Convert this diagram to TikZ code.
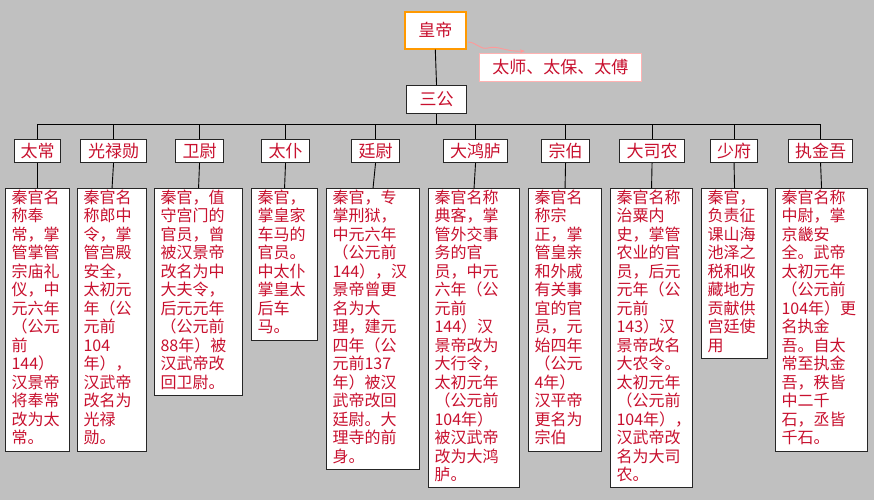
\documentclass[tikz,border=0pt]{standalone}
\usepackage{fontspec}
\setmainfont{Noto Sans CJK SC}
\usetikzlibrary{arrows.meta}
\definecolor{txt}{HTML}{C8102E}
\definecolor{bg}{HTML}{C0C0C0}
\tikzset{
 box/.style={draw=black!85,line width=1.1pt,fill=white,text=txt,font=\fontsize{16}{18.5}\selectfont,inner sep=0pt,anchor=north west},
 lbl/.style={draw=black!85,line width=1.1pt,fill=white,text=txt,font=\fontsize{17}{20}\selectfont,inner sep=0pt,anchor=north west},
 link/.style={draw=black,line width=0.9pt}
}
% name, x, y, w, h, text, parent
\newcommand{\descbox}[7]{\node[box,minimum width=#4pt,minimum height=#5pt] (#1) at (#2,#3) {\parbox[t][#5pt][t]{#4pt}{\vspace{1pt}\hspace*{6pt}\parbox[t]{\dimexpr#4pt-7pt\relax}{\raggedright #6}}};\draw[link] (#7.south) -- (#1.north);}
% name, x, y, w, h, text
\newcommand{\lblbox}[6]{\node[lbl,minimum width=#4pt,minimum height=#5pt] (#1) at (#2,#3) {#6};}
\begin{document}
\begin{tikzpicture}[x=1pt,y=-1pt]
\fill[bg] (0,0) rectangle (874,500);
\useasboundingbox (0,0) rectangle (874,500);
\node[lbl,draw=orange!80!yellow,line width=1.6pt,minimum width=61pt,minimum height=37pt] (hd) at (404,11) {皇帝};
\node[lbl,draw=red!30,line width=0.9pt,minimum width=162pt,minimum height=28pt] (ts) at (479,53) {太师、太保、太傅};
\node[lbl,minimum width=60pt,minimum height=28pt] (sg) at (406,85) {三公};
\draw[link] (hd.south) -- (sg.north);
\coordinate (arrS) at (468,42);
\coordinate (arrE) at (525,51);
\draw[red!40,line width=0.9pt,-{Stealth[length=5pt]}] (arrS) .. controls (476,42) and (480,50) .. (488,48) .. controls (498,45) and (505,52) .. (arrE);
\lblbox{c1}{14}{139}{46}{23}{太常}
\lblbox{c2}{80}{139}{66}{23}{光禄勋}
\lblbox{c3}{175}{139}{48}{23}{卫尉}
\lblbox{c4}{261}{139}{48}{23}{太仆}
\lblbox{c5}{351}{139}{48}{23}{廷尉}
\lblbox{c6}{443}{139}{64}{23}{大鸿胪}
\lblbox{c7}{541}{139}{48}{23}{宗伯}
\lblbox{c8}{619}{139}{65}{23}{大司农}
\lblbox{c9}{710}{139}{47}{23}{少府}
\lblbox{c10}{788}{139}{64}{23}{执金吾}
\foreach \i in {1,...,10}{\draw[link] (sg.south) -- ++(0,10) -| (c\i.north);}
\descbox{d1}{5}{188}{64}{263}{秦官名\\称奉\\常，掌\\管掌管\\宗庙礼\\仪，中\\元六年\\（公元\\前\\144）\\汉景帝\\将奉常\\改为太\\常。}{c1}
\descbox{d2}{77}{188}{69}{263}{秦官名\\称郎中\\令，掌\\管宫殿\\安全，\\太初元\\年（公\\元前\\104\\年），\\汉武帝\\改名为\\光禄\\勋。}{c2}
\descbox{d3}{154}{188}{88}{207}{秦官，值\\守宫门的\\官员，曾\\被汉景帝\\改名为中\\大夫令，\\后元元年\\（公元前\\88年）被\\汉武帝改\\回卫尉。}{c3}
\descbox{d4}{251}{188}{66}{152}{秦官，\\掌皇家\\车马的\\官员。\\中太仆\\掌皇太\\后车\\马。}{c4}
\descbox{d5}{326}{188}{93}{281}{秦官，专\\掌刑狱，\\中元六年\\（公元前\\144），汉\\景帝曾更\\名为大\\理，建元\\四年（公\\元前137\\年）被汉\\武帝改回\\廷尉。大\\理寺的前\\身。}{c5}
\descbox{d6}{428}{188}{91}{299}{秦官名称\\典客，掌\\管外交事\\务的官\\员，中元\\六年（公\\元前\\144）汉\\景帝改为\\大行令，\\太初元年\\（公元前\\104年）\\被汉武帝\\改为大鸿\\胪。}{c6}
\descbox{d7}{528}{188}{73}{263}{秦官名\\称宗\\正，掌\\管皇亲\\和外戚\\有关事\\宜的官\\员，元\\始四年\\（公元\\4年）\\汉平帝\\更名为\\宗伯}{c7}
\descbox{d8}{610}{188}{82}{299}{秦官名称\\治粟内\\史，掌管\\农业的官\\员，后元\\元年（公\\元前\\143）汉\\景帝改名\\大农令。\\太初元年\\（公元前\\104年），\\汉武帝改\\名为大司\\农。}{c8}
\descbox{d9}{701}{188}{66}{170}{秦官，\\负责征\\课山海\\池泽之\\税和收\\藏地方\\贡献供\\宫廷使\\用}{c9}
\descbox{d10}{775}{188}{92}{263}{秦官名称\\中尉，掌\\京畿安\\全。武帝\\太初元年\\（公元前\\104年）更\\名执金\\吾。自太\\常至执金\\吾，秩皆\\中二千\\石，丞皆\\千石。}{c10}
\end{tikzpicture}
\end{document}
